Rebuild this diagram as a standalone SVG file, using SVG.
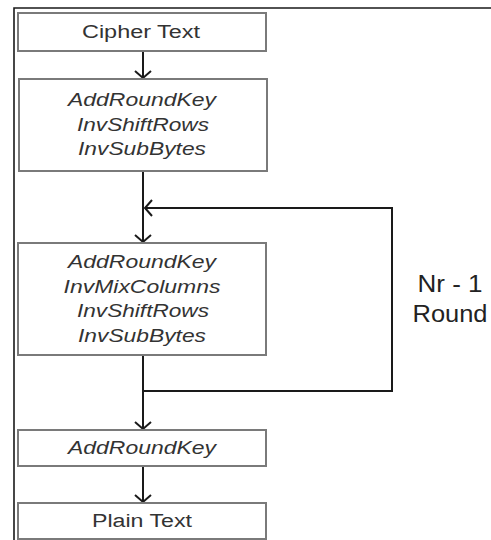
<svg xmlns="http://www.w3.org/2000/svg" width="491" height="540" viewBox="0 0 491 540">
<style>
.box{fill:#fff;stroke:#7a7a7a;stroke-width:2}
.t{font-family:"Liberation Sans",Arial,sans-serif;font-size:18px;fill:#333;text-anchor:middle}
.i{font-style:italic}
.big{font-family:"Liberation Sans",Arial,sans-serif;font-size:23px;fill:#222;text-anchor:middle}
.c{fill:none;stroke:#1a1a1a;stroke-width:2}
.frame{fill:none;stroke:#1a1a1a;stroke-width:1.6}
</style>
<defs>
<marker id="ah" markerUnits="userSpaceOnUse" markerWidth="20" markerHeight="20" refX="0" refY="0" viewBox="-10 -10 20 20" orient="auto">
<path d="M-7,-8 L0,0 L-7,8" fill="none" stroke="#1a1a1a" stroke-width="2"/>
</marker>
</defs>
<path class="frame" d="M14,540 L14,8 L491,8"/>
<g id="connectors">
<path class="c" d="M143,51 L143,78" marker-end="url(#ah)"/>
<path class="c" d="M143,171 L143,242" marker-end="url(#ah)"/>
<path class="c" d="M143,391 L392,391 L392,208 L145,208" marker-end="url(#ah)"/>
<path class="c" d="M143,355 L143,429" marker-end="url(#ah)"/>
<path class="c" d="M143,466 L143,502" marker-end="url(#ah)"/>
</g>
<g id="cipher">
<rect class="box" x="18" y="13" width="248" height="38"/>
<text class="t" x="141" y="38" textLength="118" lengthAdjust="spacingAndGlyphs">Cipher Text</text>
</g>
<g id="initial">
<rect class="box" x="19" y="79" width="248" height="92"/>
<text class="t i" x="142" y="106" textLength="148" lengthAdjust="spacingAndGlyphs">AddRoundKey</text>
<text class="t i" x="143" y="131" textLength="132" lengthAdjust="spacingAndGlyphs">InvShiftRows</text>
<text class="t i" x="142" y="155" textLength="128" lengthAdjust="spacingAndGlyphs">InvSubBytes</text>
</g>
<g id="round">
<rect class="box" x="18" y="243" width="248" height="112"/>
<text class="t i" x="142" y="268" textLength="148" lengthAdjust="spacingAndGlyphs">AddRoundKey</text>
<text class="t i" x="142" y="293" textLength="157" lengthAdjust="spacingAndGlyphs">InvMixColumns</text>
<text class="t i" x="143" y="317" textLength="132" lengthAdjust="spacingAndGlyphs">InvShiftRows</text>
<text class="t i" x="142" y="342" textLength="128" lengthAdjust="spacingAndGlyphs">InvSubBytes</text>
</g>
<g id="final">
<rect class="box" x="18" y="430" width="248" height="36"/>
<text class="t i" x="142" y="454" textLength="148" lengthAdjust="spacingAndGlyphs">AddRoundKey</text>
</g>
<g id="plain">
<rect class="box" x="18" y="503" width="248" height="36"/>
<text class="t" x="142" y="527" textLength="100" lengthAdjust="spacingAndGlyphs">Plain Text</text>
</g>
<g id="label">
<text class="big" x="450" y="292" textLength="65" lengthAdjust="spacingAndGlyphs">Nr - 1</text>
<text class="big" x="450" y="322" textLength="75" lengthAdjust="spacingAndGlyphs">Round</text>
</g>
</svg>
